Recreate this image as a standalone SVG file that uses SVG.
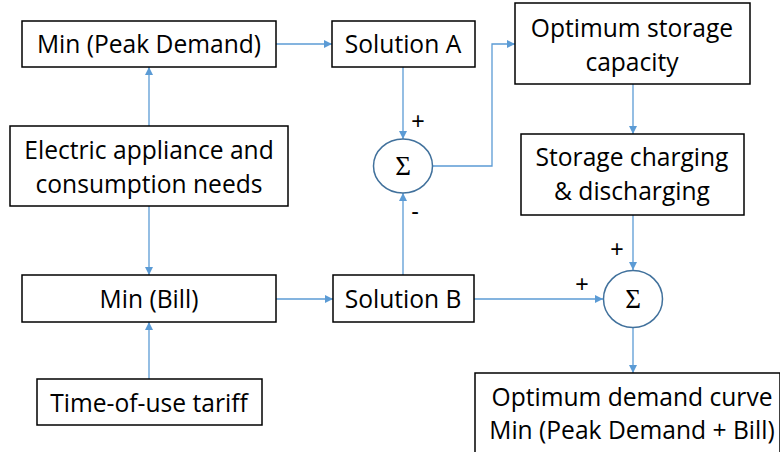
<svg xmlns="http://www.w3.org/2000/svg" width="780" height="452" viewBox="0 0 780 452">
<style>
.box{fill:#fff;stroke:#000;stroke-width:1.5}
.t{font-family:"Open Sans","Liberation Sans",sans-serif;font-size:24.6px;fill:#000;text-anchor:middle}
.c{fill:none;stroke:#5b9bd5;stroke-width:1.3}
.sum{fill:#fff;stroke:#41719c;stroke-width:1.5}
.sg{font-family:"Liberation Serif",serif;font-size:27px;fill:#000;text-anchor:middle}
.pm{font-family:"Liberation Sans",sans-serif;font-size:23px;fill:#000;text-anchor:middle}
</style>
<defs>
<marker id="ah" markerWidth="8" markerHeight="8" refX="8" refY="4" orient="auto" markerUnits="userSpaceOnUse">
<path d="M0,0 L8,4 L0,8 Z" fill="#5b9bd5"/>
</marker>
</defs>
<rect width="780" height="452" fill="#fff"/>
<g id="connectors">
<path class="c" d="M276,44 H332" marker-end="url(#ah)"/>
<path class="c" d="M149,126 V67" marker-end="url(#ah)"/>
<path class="c" d="M149,206 V275" marker-end="url(#ah)"/>
<path class="c" d="M149,379 V322" marker-end="url(#ah)"/>
<path class="c" d="M276,299 H333" marker-end="url(#ah)"/>
<path class="c" d="M403,67 V139" marker-end="url(#ah)"/>
<path class="c" d="M403,275 V193" marker-end="url(#ah)"/>
<path class="c" d="M433,166 H492 V44 H515" marker-end="url(#ah)"/>
<path class="c" d="M633,84 V134" marker-end="url(#ah)"/>
<path class="c" d="M633,215 V270" marker-end="url(#ah)"/>
<path class="c" d="M474,299 H603" marker-end="url(#ah)"/>
<path class="c" d="M633,328 V373" marker-end="url(#ah)"/>
</g>
<g id="minPeak"><rect class="box" x="22" y="21" width="254" height="46"/><text class="t" x="149" y="53">Min (Peak Demand)</text></g>
<g id="electric"><rect class="box" x="10" y="126" width="278" height="80"/><text class="t" x="149" y="159">Electric appliance and</text><text class="t" x="149" y="193">consumption needs</text></g>
<g id="minBill"><rect class="box" x="22" y="275" width="254" height="47"/><text class="t" x="149" y="308">Min (Bill)</text></g>
<g id="tou"><rect class="box" x="37" y="379" width="225" height="46"/><text class="t" x="149" y="412">Time-of-use tariff</text></g>
<g id="solA"><rect class="box" x="332" y="21" width="143" height="46"/><text class="t" x="403" y="53">Solution A</text></g>
<g id="solB"><rect class="box" x="333" y="275" width="141" height="47"/><text class="t" x="403" y="308">Solution B</text></g>
<g id="sum1"><ellipse class="sum" cx="403" cy="166" rx="29.5" ry="27"/><text class="sg" x="403" y="175">Σ</text><text class="pm" x="418" y="129">+</text><text class="pm" x="415" y="219">-</text></g>
<g id="optStorage"><rect class="box" x="515" y="3" width="235" height="81"/><text class="t" x="632" y="37">Optimum storage</text><text class="t" x="632" y="71">capacity</text></g>
<g id="charging"><rect class="box" x="521" y="134" width="223" height="81"/><text class="t" x="632" y="166">Storage charging</text><text class="t" x="632" y="200">&amp; discharging</text></g>
<g id="sum2"><ellipse class="sum" cx="633" cy="299" rx="29.5" ry="28.5"/><text class="sg" x="633" y="308">Σ</text><text class="pm" x="617" y="257">+</text><text class="pm" x="582" y="292">+</text></g>
<g id="optDemand"><rect class="box" x="475" y="373" width="305" height="90"/><text class="t" x="632" y="406">Optimum demand curve</text><text class="t" x="632" y="439">Min (Peak Demand + Bill)</text></g>
</svg>
